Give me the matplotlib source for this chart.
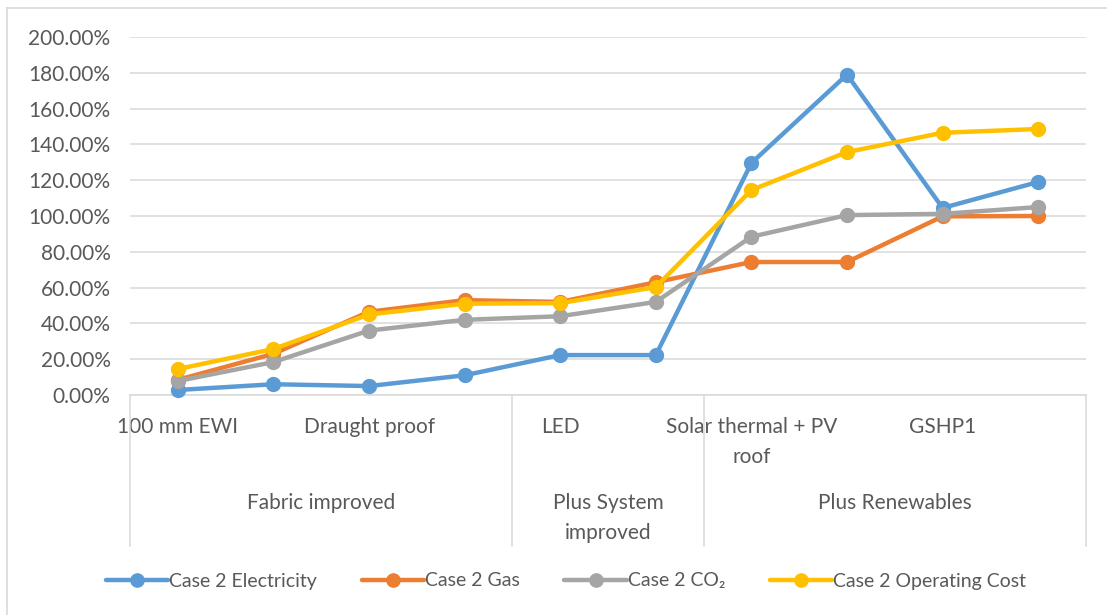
import matplotlib.pyplot as plt
from matplotlib.lines import Line2D
from matplotlib.ticker import PercentFormatter
from matplotlib.transforms import blended_transform_factory

plt.rcParams['font.family'] = ['Lato', 'DejaVu Sans']

# labels only on every other measure, the rest stay blank
measures = ["100 mm EWI", "", "Draught proof", "", "LED", "",
            "Solar thermal + PV\nroof", "", "GSHP1", ""]
groups = ["Fabric improved", "Plus System\nimproved", "Plus Renewables"]
group_sizes = [4, 2, 4]

electricity = [0.028, 0.060, 0.050, 0.110, 0.223, 0.223, 1.296, 1.790, 1.045, 1.190]
gas = [0.085, 0.230, 0.465, 0.530, 0.520, 0.630, 0.743, 0.743, 0.998, 1.000]
co2 = [0.078, 0.184, 0.360, 0.420, 0.440, 0.520, 0.884, 1.005, 1.012, 1.050]
op_cost = [0.145, 0.257, 0.450, 0.510, 0.513, 0.603, 1.145, 1.357, 1.465, 1.486]

series = [
    ("Case 2 Electricity", electricity, "#5B9BD5"),
    ("Case 2 Gas", gas, "#ED7D31"),
    ("Case 2 CO\u2082", co2, "#A5A5A5"),
    ("Case 2 Operating Cost", op_cost, "#FFC000"),
]

W, H = 1107, 615
fig = plt.figure(figsize=(W / 100, H / 100), dpi=100)

def fx(px):
    return px / W

def fy(py):
    return 1 - py / H

ax = fig.add_axes([fx(130), fy(395), fx(1086) - fx(130), fy(37) - fy(395)])

xs = list(range(len(measures)))
for name, vals, col in series:
    ax.plot(xs, vals, color=col, lw=3.2, marker='o', ms=10, label=name,
            solid_capstyle='round', clip_on=False, zorder=3)

ax.set_xlim(-0.5, len(measures) - 0.5)
ax.set_ylim(0, 2.0)
ax.set_yticks([i * 0.2 for i in range(11)])
ax.yaxis.set_major_formatter(PercentFormatter(xmax=1, decimals=2))
ax.tick_params(axis='y', length=0, labelsize=15, labelcolor='#595959', pad=14)
ax.set_xticks([])
ax.grid(axis='y', color='#D9D9D9', lw=1.1)
ax.set_axisbelow(True)
for s in ['left', 'right', 'top']:
    ax.spines[s].set_visible(False)
ax.spines['bottom'].set_color('#D9D9D9')
ax.spines['bottom'].set_linewidth(1.1)

# two-level category axis below the plot
tr = blended_transform_factory(ax.transData, fig.transFigure)
for x, lab in zip(xs, measures):
    if lab:
        ax.text(x, fy(417), lab, transform=tr, ha='center', va='top',
                fontsize=15, color='#595959', linespacing=1.6)

edges = [-0.5]
for n in group_sizes:
    edges.append(edges[-1] + n)
for i, g in enumerate(groups):
    mid = (edges[i] + edges[i + 1]) / 2
    ax.text(mid, fy(493), g, transform=tr, ha='center', va='top',
            fontsize=15, color='#595959', linespacing=1.6)
for e in edges:
    fig.add_artist(Line2D([e, e], [fy(395), fy(546)], transform=tr,
                          color='#D9D9D9', lw=1.1))

# chart frame (only top and left edges fall inside the image)
fig.add_artist(Line2D([fx(7), 1], [fy(8), fy(8)], color='#D9D9D9', lw=1.2))
fig.add_artist(Line2D([fx(7), fx(7)], [fy(8), 0], color='#D9D9D9', lw=1.2))

fig.legend(loc='center', bbox_to_anchor=(fx(566), fy(581)), ncol=4,
           frameon=False, fontsize=14, labelcolor='#595959',
           handlelength=3.2, handletextpad=0.05, columnspacing=2.3,
           markerscale=0.95)

fig.savefig('out.png', dpi=100)
